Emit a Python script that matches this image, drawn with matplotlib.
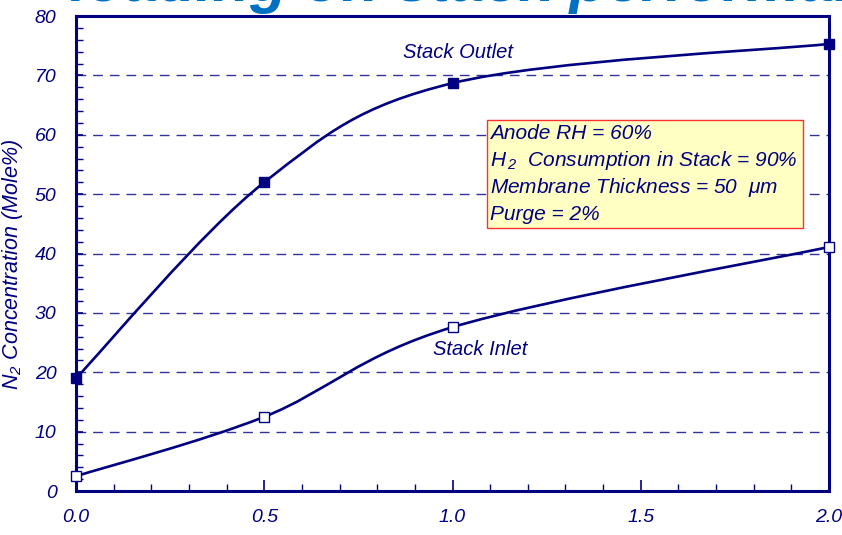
import matplotlib
matplotlib.use('Agg')
import matplotlib.pyplot as plt
import numpy as np
from matplotlib.path import Path
from matplotlib.patches import PathPatch, Rectangle
from matplotlib.ticker import MultipleLocator

plt.rcParams['font.family'] = ['Liberation Sans', 'DejaVu Sans']
plt.rcParams['mathtext.fontset'] = 'custom'
plt.rcParams['mathtext.rm'] = 'Liberation Sans:italic'
plt.rcParams['mathtext.it'] = 'Liberation Sans:italic'

navy = '#000080'

# data
purge_pct = [0.0, 0.5, 1.0, 2.0]
outlet_n2 = [19.0, 52.0, 68.7, 75.3]
inlet_n2 = [2.5, 12.5, 27.6, 41.1]

box_lines = ['Anode RH = 60%',
             r'H$_{\,2}$  Consumption in Stack = 90%',
             r'Membrane Thickness = 50  $\mu$m',
             'Purge = 2%']


def smooth_path(x, y):
    # Excel style smoothed line: bezier with catmull-rom control points
    pts = np.column_stack([x, y]).astype(float)
    verts = [pts[0]]
    codes = [Path.MOVETO]
    n = len(pts)
    for i in range(n - 1):
        p0 = pts[max(i - 1, 0)]
        p1 = pts[i]
        p2 = pts[i + 1]
        p3 = pts[min(i + 2, n - 1)]
        c1 = p1 + (p2 - p0) / 6.0
        c2 = p2 - (p3 - p1) / 6.0
        verts += [c1, c2, p2]
        codes += [Path.CURVE4] * 3
    return Path(verts, codes)


fig = plt.figure(figsize=(8.42, 5.35), dpi=100)
ax = fig.add_axes([0.0903, 0.0822, 0.8943, 0.8878])

ax.set_xlim(0, 2)
ax.set_ylim(0, 80)

for yv in range(10, 80, 10):
    ax.axhline(yv, color=navy, lw=1.0, dashes=(7, 5), alpha=0.8, zorder=1)

for ys in [outlet_n2, inlet_n2]:
    # transform to display space so the smoothing looks like the original
    disp = ax.transData.transform(np.column_stack([purge_pct, ys]))
    p = smooth_path(disp[:, 0], disp[:, 1])
    ax.add_patch(PathPatch(p, facecolor='none', edgecolor=navy, lw=1.9,
                           transform=None, zorder=3))

ax.plot(purge_pct, outlet_n2, ls='none', marker='s', ms=7.5, color=navy,
        clip_on=False, zorder=5)
ax.plot(purge_pct, inlet_n2, ls='none', marker='s', ms=7.5, mfc='white',
        mec=navy, mew=1.0, clip_on=False, zorder=5)

ax.text(1.015, 73.8, 'Stack Outlet', color=navy, style='italic', fontsize=14.5,
        ha='center', va='center')
ax.text(1.073, 23.8, 'Stack Inlet', color=navy, style='italic', fontsize=14.5,
        ha='center', va='center')

ax.add_patch(Rectangle((1.0916, 44.3), 0.8394, 18.2, facecolor='#FFFFC4',
                       edgecolor='#FF3030', lw=1.0, zorder=4))
for i, s in enumerate(box_lines):
    ax.text(1.099, 60.3 - i * 4.55, s, color=navy, style='italic',
            fontsize=15, ha='left', va='center', zorder=6)

for sp in ax.spines.values():
    sp.set_color(navy)
    sp.set_linewidth(2.2)

ax.xaxis.set_major_locator(MultipleLocator(0.5))
ax.xaxis.set_minor_locator(MultipleLocator(0.1))
ax.yaxis.set_major_locator(MultipleLocator(10))
ax.yaxis.set_minor_locator(MultipleLocator(2))
ax.xaxis.set_major_formatter(matplotlib.ticker.FormatStrFormatter('%.1f'))
ax.tick_params(axis='both', which='both', direction='in', color=navy,
               labelcolor=navy, labelsize=14)
ax.tick_params(axis='x', which='major', length=8, width=1.2, pad=13)
ax.tick_params(axis='x', which='minor', length=5, width=1.0)
ax.tick_params(axis='y', which='major', length=5, width=1.2, pad=14)
ax.tick_params(axis='y', which='minor', length=5, width=1.0)
ax.tick_params(top=False, right=False, which='both')
for lab in ax.get_xticklabels() + ax.get_yticklabels():
    lab.set_style('italic')

fig.text(0.015, 0.505, r'N$_2$ Concentration (Mole%)', rotation=90,
         color=navy, style='italic', fontsize=15.5, ha='center', va='center')

fig.text(0.083, 1 - 1 / 535, 'loading on stack performance', color='#0070C0',
         fontsize=44, fontweight='bold', style='italic', ha='left',
         va='baseline')

fig.savefig('out.png', dpi=100)
